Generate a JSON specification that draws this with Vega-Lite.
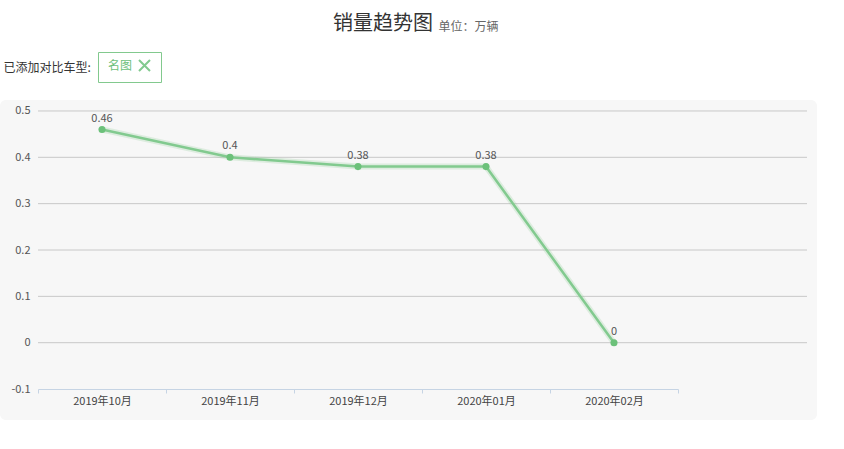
{
  "$schema": "https://vega.github.io/schema/vega-lite/v6.json",
  "width": 817,
  "height": 320,
  "autosize": {"type": "none"},
  "padding": {"left": 0, "top": 100, "right": 27, "bottom": 29},
  "background": "#ffffff",
  "config": {
    "view": {"fill": "#f7f7f7", "stroke": null, "cornerRadius": 6},
    "font": "Noto Sans CJK SC"
  },
  "title": {
    "text": "销量趋势图",
    "anchor": "start",
    "frame": "group",
    "dx": 333,
    "offset": -14,
    "fontSize": 20,
    "fontWeight": "normal",
    "color": "#333333",
    "font": "Noto Sans CJK SC"
  },
  "datasets": {
    "sales": [
      {"月份": "2019年10月", "销量": 0.46, "车型": "名图"},
      {"月份": "2019年11月", "销量": 0.4, "车型": "名图"},
      {"月份": "2019年12月", "销量": 0.38, "车型": "名图"},
      {"月份": "2020年01月", "销量": 0.38, "车型": "名图"},
      {"月份": "2020年02月", "销量": 0, "车型": "名图"}
    ],
    "ticks": [
      {"刻度": 0.5},
      {"刻度": 0.4},
      {"刻度": 0.3},
      {"刻度": 0.2},
      {"刻度": 0.1},
      {"刻度": 0}
    ]
  },
  "layer": [
    {
      "data": {"name": "ticks"},
      "mark": {"type": "rule", "color": "#c8c8c8", "strokeWidth": 1},
      "encoding": {
        "x": {
          "datum": 0,
          "type": "quantitative",
          "scale": {"domain": [0, 1], "range": [38, 807]},
          "axis": {
            "orient": "top",
            "labels": false,
            "ticks": false,
            "domain": false,
            "grid": false,
            "title": "已添加对比车型:",
            "titleX": 3,
            "titleY": -33,
            "titleAlign": "left",
            "titleBaseline": "middle",
            "titleAngle": 0,
            "titleFontSize": 12,
            "titleFontWeight": "normal",
            "titleColor": "#333333",
            "titleFont": "Noto Sans CJK SC"
          }
        },
        "x2": {"datum": 1},
        "y": {
          "field": "刻度",
          "type": "quantitative",
          "scale": {"domain": [-0.1668, 0.5237], "nice": false, "zero": false},
          "axis": {
            "orient": "left",
            "offset": -38,
            "values": [-0.1, 0, 0.1, 0.2, 0.3, 0.4, 0.5],
            "labelExpr": "datum.value + ''",
            "grid": false,
            "domain": false,
            "ticks": false,
            "tickSize": 0,
            "labelPadding": 8,
            "labelFontSize": 11,
            "labelColor": "#555555",
            "labelFont": "Noto Sans CJK SC",
            "title": "单位：万辆",
            "titleX": 400,
            "titleY": -70,
            "titleAlign": "left",
            "titleBaseline": "alphabetic",
            "titleAngle": 0,
            "titleFontSize": 12,
            "titleFontWeight": "normal",
            "titleColor": "#666666",
            "titleFont": "Noto Sans CJK SC"
          }
        }
      }
    },
    {
      "data": {"name": "sales"},
      "encoding": {
        "x": {
          "field": "月份",
          "type": "ordinal",
          "scale": {"type": "band", "range": [38, 678], "paddingInner": 0, "paddingOuter": 0},
          "axis": {
            "orient": "bottom",
            "offset": -31,
            "title": null,
            "labelAngle": 0,
            "grid": false,
            "domainColor": "#c6d4e4",
            "tickColor": "#c6d4e4",
            "tickBand": "extent",
            "tickSize": 4,
            "labelPadding": 2,
            "labelFontSize": 11,
            "labelColor": "#444444",
            "labelFont": "Noto Sans CJK SC"
          }
        },
        "y": {"field": "销量", "type": "quantitative"}
      },
      "layer": [
        {
          "mark": {"type": "line", "strokeWidth": 6, "opacity": 0.22},
          "encoding": {
            "color": {
              "field": "车型",
              "type": "nominal",
              "scale": {"domain": ["名图"], "range": ["#82ca8f"]},
              "legend": {
                "orient": "none",
                "legendX": 98,
                "legendY": -48,
                "title": null,
                "labelColor": "#6cbf7b",
                "labelFontSize": 12,
                "labelFont": "Noto Sans CJK SC",
                "labelOffset": -43,
                "symbolOffset": 33,
                "symbolType": "M-1,-1L1,1M-1,1L1,-1",
                "symbolSize": 121,
                "symbolStrokeWidth": 2,
                "symbolStrokeColor": "#6cbf7b",
                "symbolFillColor": "transparent",
                "symbolOpacity": 1,
                "padding": 7,
                "strokeColor": "#82c98e",
                "fillColor": "#ffffff"
              }
            }
          }
        },
        {
          "mark": {"type": "line", "strokeWidth": 2.5},
          "encoding": {"color": {"field": "车型", "type": "nominal"}}
        },
        {"mark": {"type": "point", "filled": true, "color": "#6cc17a", "size": 50, "opacity": 1}},
        {
          "mark": {"type": "text", "dy": -11, "fontSize": 11, "color": "#555555", "font": "Noto Sans CJK SC"},
          "encoding": {"text": {"field": "销量", "type": "quantitative", "format": "~g"}}
        }
      ]
    }
  ],
  "resolve": {"scale": {"x": "independent"}}
}
